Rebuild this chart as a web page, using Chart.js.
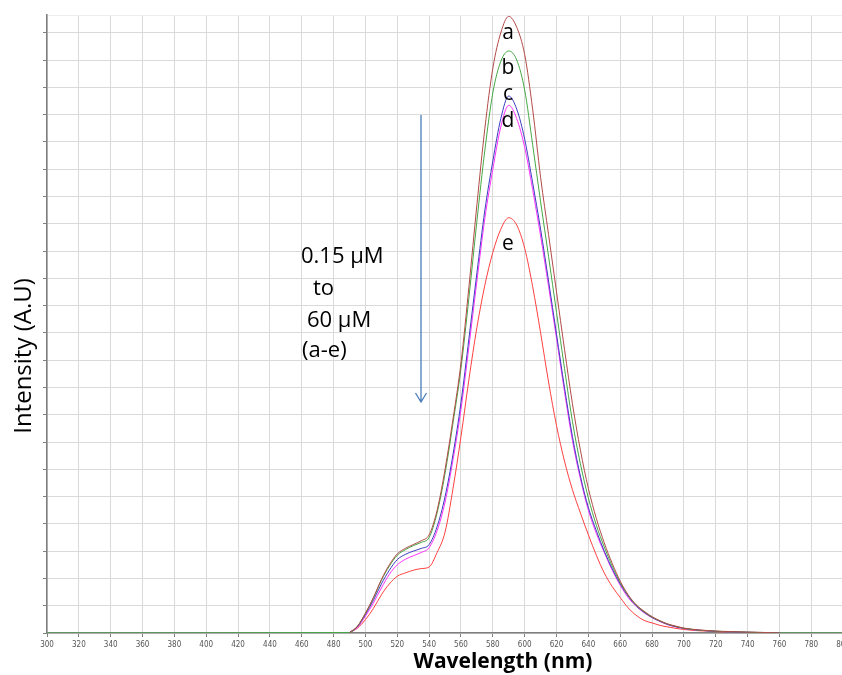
<!DOCTYPE html>
<html lang="en">
<head>
<meta charset="utf-8">
<title>Intensity vs Wavelength</title>
<script src="https://cdn.jsdelivr.net/npm/chart.js@4/dist/chart.umd.min.js"></script>
<style>
  html, body { margin: 0; padding: 0; background: #fff; overflow: hidden; }
  #grafico { display: block; }
</style>
</head>
<body>
<canvas id="grafico" width="853" height="675"></canvas>
<script>
// Longitudes de onda (nm) donde se leyó cada espectro
const longitudesOnda = [
  490, 495, 500, 505, 510, 515, 520, 525, 530, 535, 540, 545, 550, 555, 560,
  565, 570, 575, 580, 585, 590, 595, 600, 605, 610, 615, 620, 625, 630, 635,
  640, 645, 650, 655, 660, 665, 670, 675, 680, 685, 690, 695, 700, 705, 710,
  715, 720, 725, 730, 735, 740, 745, 750, 755, 760
];

// Intensidad de cada curva (unidades arbitrarias, una división de la rejilla = 1)
const serieA = [
  0.02, 0.25, 0.73, 1.3, 1.96, 2.5, 2.9, 3.1, 3.24, 3.38, 3.6, 4.5, 6.0, 7.85, 9.9,
  12.7, 15.7, 18.5, 20.7, 22.0, 22.6, 22.2, 21.2, 19.2, 16.7, 14.6, 12.5, 10.4, 8.4, 6.7,
  5.3, 4.2, 3.3, 2.55, 1.9, 1.4, 1.04, 0.8, 0.6, 0.45, 0.33, 0.25, 0.18, 0.14, 0.11,
  0.09, 0.07, 0.06, 0.05, 0.04, 0.03, 0.03, 0.02, 0.01, 0
];
const serieB = [
  0.02, 0.25, 0.72, 1.28, 1.93, 2.45, 2.85, 3.05, 3.2, 3.32, 3.5, 4.4, 5.85, 7.7, 9.7,
  12.3, 15.1, 17.7, 19.8, 20.95, 21.33, 21.0, 19.9, 17.9, 15.8, 13.8, 11.75, 9.7, 7.75, 6.2,
  4.95, 3.95, 3.15, 2.45, 1.85, 1.38, 1.02, 0.78, 0.58, 0.44, 0.32, 0.24, 0.17, 0.13, 0.1,
  0.08, 0.07, 0.05, 0.04, 0.04, 0.03, 0.02, 0.02, 0.01, 0
];
const serieC = [
  0.02, 0.23, 0.68, 1.2, 1.8, 2.3, 2.69, 2.88, 3.0, 3.1, 3.24, 3.9, 5.0, 6.55, 8.45,
  10.8, 13.2, 15.5, 17.3, 18.85, 19.68, 19.2, 18.1, 16.5, 14.8, 12.9, 10.95, 9.0, 7.2, 5.75,
  4.6, 3.75, 3.0, 2.35, 1.8, 1.35, 1.0, 0.76, 0.57, 0.43, 0.31, 0.23, 0.17, 0.13, 0.1,
  0.08, 0.06, 0.05, 0.04, 0.03, 0.03, 0.02, 0.01, 0.01, 0
];
const serieD = [
  0.02, 0.2, 0.62, 1.1, 1.65, 2.15, 2.5, 2.7, 2.83, 2.95, 3.13, 3.75, 4.8, 6.35, 8.2,
  10.5, 12.9, 15.2, 17.0, 18.55, 19.34, 18.85, 17.8, 16.25, 14.55, 12.7, 10.8, 8.85, 7.05, 5.65,
  4.5, 3.65, 2.95, 2.3, 1.75, 1.3, 0.98, 0.74, 0.56, 0.42, 0.3, 0.22, 0.16, 0.12, 0.1,
  0.08, 0.06, 0.05, 0.04, 0.03, 0.02, 0.02, 0.01, 0.01, 0
];
const serieE = [
  0.01, 0.18, 0.49, 0.9, 1.4, 1.8, 2.08, 2.2, 2.3, 2.36, 2.42, 2.95, 3.7, 5.3, 7.2,
  9.3, 11.2, 12.75, 13.95, 14.8, 15.22, 14.95, 14.1, 12.7, 11.0, 9.2, 7.6, 6.3, 5.25, 4.4,
  3.6, 2.85, 2.2, 1.7, 1.3, 0.92, 0.65, 0.46, 0.37, 0.28, 0.22, 0.17, 0.13, 0.1, 0.08,
  0.07, 0.05, 0.04, 0.04, 0.03, 0.02, 0.02, 0.01, 0.01, 0
];

// La curva b se registró en todo el barrido (línea base en cero)
const barridoCompleto = [300, 800];

// Eje x: marcas cada 20 nm
const ejeXMin = 300;
const ejeXMax = 800;
const pasoX = 20;

// Eje y sin etiquetas: una línea por unidad
const ejeYMax = 22.65;
const marcasY = [0, 1, 2, 3, 4, 5, 6, 7, 8, 9, 10, 11, 12, 13, 14, 15, 16, 17, 18, 19, 20, 21, 22, ejeYMax];

// Textos
const etiquetasCurvas = ["a", "b", "c", "d", "e"];
const textoConcentracion = ["0.15 µM", "to", "60 µM", "(a-e)"];
const tituloX = "Wavelength (nm)";
const tituloY = "Intensity (A.U)";

// Convierte una serie en puntos {x, y}
function aPuntos(valores) {
  return longitudesOnda.map((x, i) => ({ x, y: valores[i] }));
}

// Serie b con línea base al inicio y al final del barrido
function conLineaBase(valores) {
  return [{ x: barridoCompleto[0], y: 0 }, ...aPuntos(valores), { x: barridoCompleto[1], y: 0 }];
}

// Dibuja letras, texto de concentración, flecha y títulos de ejes
const anotaciones = {
  id: "anotaciones",
  afterDraw(chart) {
    const ctx = chart.ctx;
    ctx.save();

    // letras sobre los máximos
    ctx.fillStyle = "#000";
    ctx.font = '21px "Open Sans"';
    ctx.textAlign = "center";
    ctx.textBaseline = "alphabetic";
    const basesLetras = [39, 74, 100, 127, 250];
    etiquetasCurvas.forEach((letra, i) => ctx.fillText(letra, 508, basesLetras[i]));

    // texto de concentración
    ctx.font = '22px "Open Sans"';
    ctx.textAlign = "left";
    const posicionesTexto = [[301, 263], [313, 295], [307, 327], [302, 357]];
    textoConcentracion.forEach((linea, i) => ctx.fillText(linea, posicionesTexto[i][0], posicionesTexto[i][1]));

    // flecha hacia abajo
    ctx.strokeStyle = "#4a7ebb";
    ctx.lineWidth = 1.3;
    ctx.beginPath();
    ctx.moveTo(421, 115);
    ctx.lineTo(421, 402);
    ctx.moveTo(415.5, 393);
    ctx.lineTo(421, 402);
    ctx.lineTo(426.5, 393);
    ctx.stroke();

    // título eje x
    ctx.fillStyle = "#000";
    ctx.font = 'bold 21px "Open Sans"';
    ctx.textAlign = "center";
    ctx.fillText(tituloX, 503, 668);

    // título eje y
    ctx.font = '24px "Open Sans"';
    ctx.translate(31, 356);
    ctx.rotate(-Math.PI / 2);
    ctx.fillText(tituloY, 0, 0);

    ctx.restore();
  },
};

function crearGrafico() {
  const ctx = document.getElementById("grafico").getContext("2d");
  new Chart(ctx, {
    type: "line",
    data: {
      datasets: [
        { label: "a", data: aPuntos(serieA), borderColor: "#b24a48" },
        { label: "b", data: conLineaBase(serieB), borderColor: "#45a845" },
        { label: "c", data: aPuntos(serieC), borderColor: "#3c3cc0" },
        { label: "d", data: aPuntos(serieD), borderColor: "#ff30ff" },
        { label: "e", data: aPuntos(serieE), borderColor: "#ff4040" },
      ],
    },
    options: {
      responsive: false,
      animation: false,
      layout: { padding: { top: 15, left: 0, right: 0, bottom: 0 } },
      elements: {
        point: { radius: 0 },
        line: { borderWidth: 1, cubicInterpolationMode: "monotone" },
      },
      plugins: {
        legend: { display: false },
        tooltip: { enabled: false },
      },
      scales: {
        x: {
          type: "linear",
          min: ejeXMin,
          max: ejeXMax,
          afterFit: (escala) => {
            escala.height = 42;
          },
          ticks: {
            stepSize: pasoX,
            autoSkip: false,
            maxRotation: 0,
            padding: 3,
            color: "#555",
            font: { family: '"DejaVu Sans Condensed", "DejaVu Sans"', size: 8 },
          },
          grid: { color: "#dadada", tickColor: "#808080", tickLength: 4 },
          border: { color: "#7f7f7f", width: 1.5 },
        },
        y: {
          min: 0,
          max: ejeYMax,
          afterFit: (escala) => {
            escala.width = 47;
          },
          afterBuildTicks: (escala) => {
            escala.ticks = marcasY.map((v) => ({ value: v }));
          },
          ticks: { display: false },
          grid: {
            color: (c) => (c.tick && c.tick.value === ejeYMax ? "#eeeeee" : "#dadada"),
            tickColor: (c) => (c.tick && c.tick.value === ejeYMax ? "rgba(0,0,0,0)" : "#808080"),
            tickLength: 4,
          },
          border: { color: "#7f7f7f", width: 1.5 },
        },
      },
    },
    plugins: [anotaciones],
  });
}

crearGrafico();
</script>
</body>
</html>
